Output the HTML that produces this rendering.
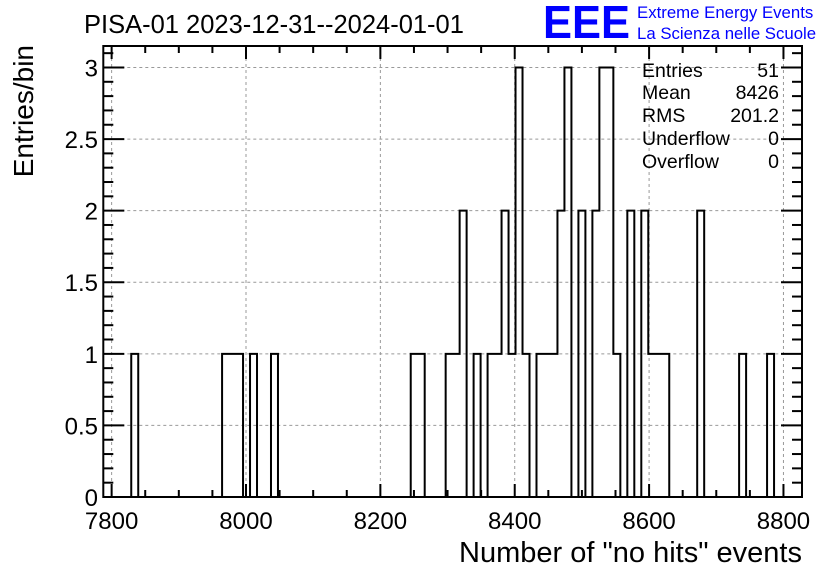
<!DOCTYPE html>
<html><head><meta charset="utf-8"><style>
body{margin:0;background:#fff;}
svg{display:block;font-family:"Liberation Sans",sans-serif;}
</style></head><body>
<svg id="c" width="836" height="572" viewBox="0 0 836 572" xmlns="http://www.w3.org/2000/svg">
<rect width="836" height="572" fill="#fff"/>
<text x="84" y="33" font-size="25.5">PISA-01 2023-12-31--2024-01-01</text>
<text x="543" y="38" font-size="46" font-weight="bold" fill="#0000ff" textLength="87" lengthAdjust="spacingAndGlyphs">EEE</text>
<text x="637" y="18" font-size="16.8" fill="#0000ff">Extreme Energy Events</text>
<text x="637" y="39" font-size="16.8" fill="#0000ff">La Scienza nelle Scuole</text>
<text transform="translate(33,45) rotate(-90)" text-anchor="end" font-size="28">Entries/bin</text>
<text x="802" y="562" text-anchor="end" font-size="29">Number of "no hits" events</text>
<g id="grid"></g><g id="hist"></g><g id="axes"></g>
<g font-size="19.5">
<text x="642" y="77">Entries</text><text x="779" y="77" text-anchor="end">51</text>
<text x="642" y="99">Mean</text><text x="779" y="99" text-anchor="end">8426</text>
<text x="642" y="122">RMS</text><text x="779" y="122" text-anchor="end">201.2</text>
<text x="642" y="145">Underflow</text><text x="779" y="145" text-anchor="end">0</text>
<text x="642" y="168">Overflow</text><text x="779" y="168" text-anchor="end">0</text>
</g>
</svg>
<script>
const xMin = 7787.6, xMax = 8827.6, nBins = 100;
const yMin = 0, yMax = 3.15;
const xTickLabels = ["7800","8000","8200","8400","8600","8800"];
const yTickLabels = ["0","0.5","1","1.5","2","2.5","3"];
const filledBins = [4,17,18,19,21,24,44,45,49,50,51,53,55,56,57,58,59,60,62,63,64,65,66,68,70,71,72,73,75,77,78,79,80,85,91,95];
const filledCounts = [1,1,1,1,1,1,1,1,1,1,2,1,1,1,2,1,3,1,1,1,1,2,3,2,2,3,3,1,2,2,1,1,1,2,1,1];
const L=103.3,R=802,T=46,B=497;
const NS="http://www.w3.org/2000/svg";
const sx=v=>L+(v-xMin)/(xMax-xMin)*(R-L);
const sy=v=>B-(v-yMin)/(yMax-yMin)*(B-T);
function mk(tag,attrs,parent){const e=document.createElementNS(NS,tag);for(const k in attrs)e.setAttribute(k,attrs[k]);parent.appendChild(e);return e;}
const grid=document.getElementById('grid'),hist=document.getElementById('hist'),axes=document.getElementById('axes');
const counts=new Array(nBins).fill(0);
filledBins.forEach((b,i)=>counts[b]=filledCounts[i]);
const bw=(xMax-xMin)/nBins;
xTickLabels.forEach(t=>{const x=sx(+t);const g=mk('line',{x1:x,x2:x,y1:T,y2:B,stroke:'#999','stroke-dasharray':'3,3','stroke-width':1},grid);
});
yTickLabels.forEach(t=>{const y=sy(+t);const g=mk('line',{x1:L,x2:R,y1:y,y2:y,stroke:'#999','stroke-dasharray':'3,3','stroke-width':1},grid);
});
let d='M'+sx(xMin)+','+sy(0);
for(let i=0;i<nBins;i++){const x0=sx(xMin+i*bw),x1=sx(xMin+(i+1)*bw),y=sy(counts[i]);d+=' L'+x0+','+y+' L'+x1+','+y;}
d+=' L'+sx(xMax)+','+sy(0);
const p=mk('path',{d:d,fill:'none',stroke:'#000','stroke-width':2},hist);

const f=mk('rect',{x:L,y:T,width:R-L,height:B-T,fill:'none',stroke:'#000','stroke-width':2},axes);

for(let v=7800;v<=xMax;v+=50){const x=sx(v);const maj=(v%200===0);const len=maj?13:7;
mk('line',{x1:x,x2:x,y1:B,y2:B-len,stroke:'#000','stroke-width':2},axes);
mk('line',{x1:x,x2:x,y1:T,y2:T+len,stroke:'#000','stroke-width':2},axes);}
xTickLabels.forEach(t=>{const e=mk('text',{x:sx(+t),y:529,'text-anchor':'middle','font-size':24},axes);e.textContent=t;
});
for(let k=0;k<=31;k++){const v=k*0.1;const y=sy(v);const maj=(k%5===0);const len=maj?21:10;
mk('line',{x1:L,x2:L+len,y1:y,y2:y,stroke:'#000','stroke-width':2},axes);
mk('line',{x1:R,x2:R-len,y1:y,y2:y,stroke:'#000','stroke-width':2},axes);}
yTickLabels.forEach(t=>{const e=mk('text',{x:98,y:sy(+t)+9,'text-anchor':'end','font-size':24},axes);e.textContent=t;
});
</script>
</body></html>
